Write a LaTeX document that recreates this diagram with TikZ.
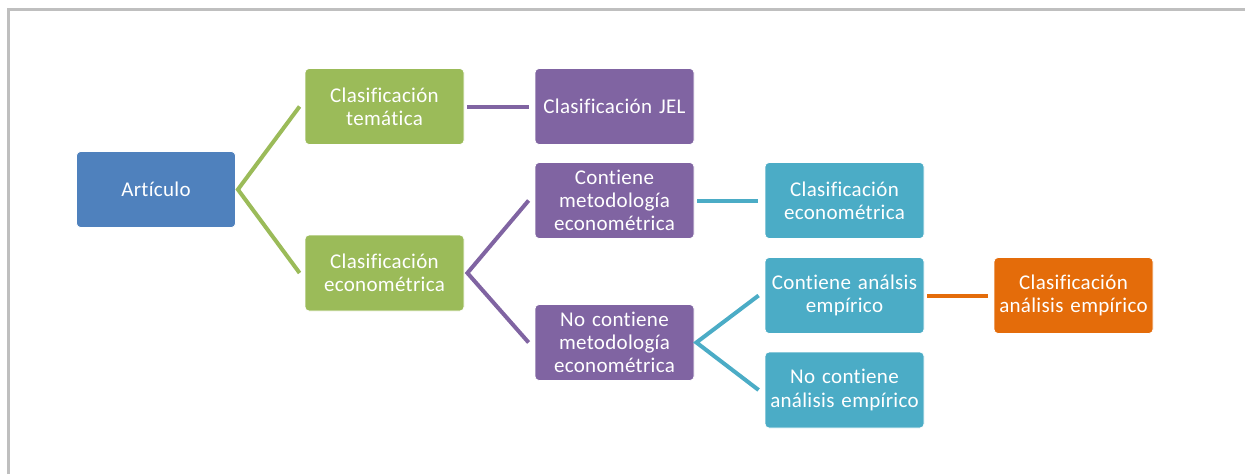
\documentclass[tikz,border=0pt]{standalone}
\usepackage{fontspec}
\setmainfont{Carlito}[LetterSpace=1.5,Ligatures={NoCommon}]
\definecolor{cblue}{HTML}{4F81BD}
\definecolor{cgreen}{HTML}{9BBB59}
\definecolor{cpurple}{HTML}{8064A2}
\definecolor{ccyan}{HTML}{4BACC6}
\definecolor{corange}{HTML}{E46C0A}
\definecolor{cframe}{HTML}{BFBFBF}
\tikzset{
  box/.style={rectangle, rounded corners=4pt, draw=white, line width=0.8pt, text=white,
    minimum width=159pt, minimum height=76pt, text width=155pt, align=center,
    inner sep=0pt, font=\fontsize{21}{23.3}\selectfont},
  conn/.style={line width=4pt},
}
\begin{document}
\begin{tikzpicture}[x=1pt,y=-1pt]
\useasboundingbox (0,0) rectangle (1245,474);
\draw[cframe, line width=2.2pt] (8.5,474) -- (8.5,9.5) -- (1245,9.5);
\node[box, fill=cblue]   (art)  at (156,189.5) {Artículo};
\node[box, fill=cgreen]  (tem)  at (384.5,106.5) {Clasificación\\temática};
\node[box, fill=cgreen]  (eco)  at (384.5,273) {Clasificación\\econométrica};
\node[box, fill=cpurple] (jel)  at (614.5,106.5) {Clasificación JEL};
\node[box, fill=cpurple] (cme)  at (614.5,200.5) {Contiene\\metodología\\econométrica};
\node[box, fill=cpurple] (ncme) at (614.5,342.5) {No contiene\\metodología\\econométrica};
\node[box, fill=ccyan]   (ceco) at (844.5,200.5) {Clasificación\\econométrica};
\node[box, fill=ccyan]   (cae)  at (844.5,295.5) {Contiene análsis\\empírico};
\node[box, fill=ccyan]   (ncae) at (844.5,390) {No contiene\\análisis empírico};
\node[box, fill=corange] (cls)  at (1073.5,295.5) {Clasificación\\análisis empírico};
% connectors
\draw[conn, cgreen] ([xshift=-5pt]tem.west) -- ([xshift=2pt]art.east) -- ([xshift=-5pt]eco.west);
\draw[conn, cpurple] ([xshift=3pt]tem.east) -- ([xshift=-6pt]jel.west);
\draw[conn, cpurple] ([xshift=-6pt]cme.west) -- ([xshift=3pt]eco.east) -- ([xshift=-6pt]ncme.west);
\draw[conn, ccyan] ([xshift=3pt]cme.east) -- ([xshift=-7pt]ceco.west);
\draw[conn, ccyan] ([xshift=-6pt]cae.west) -- ([xshift=2pt]ncme.east) -- ([xshift=-6pt]ncae.west);
\draw[conn, corange] ([xshift=3pt]cae.east) -- ([xshift=-6pt]cls.west);
\end{tikzpicture}
\end{document}
